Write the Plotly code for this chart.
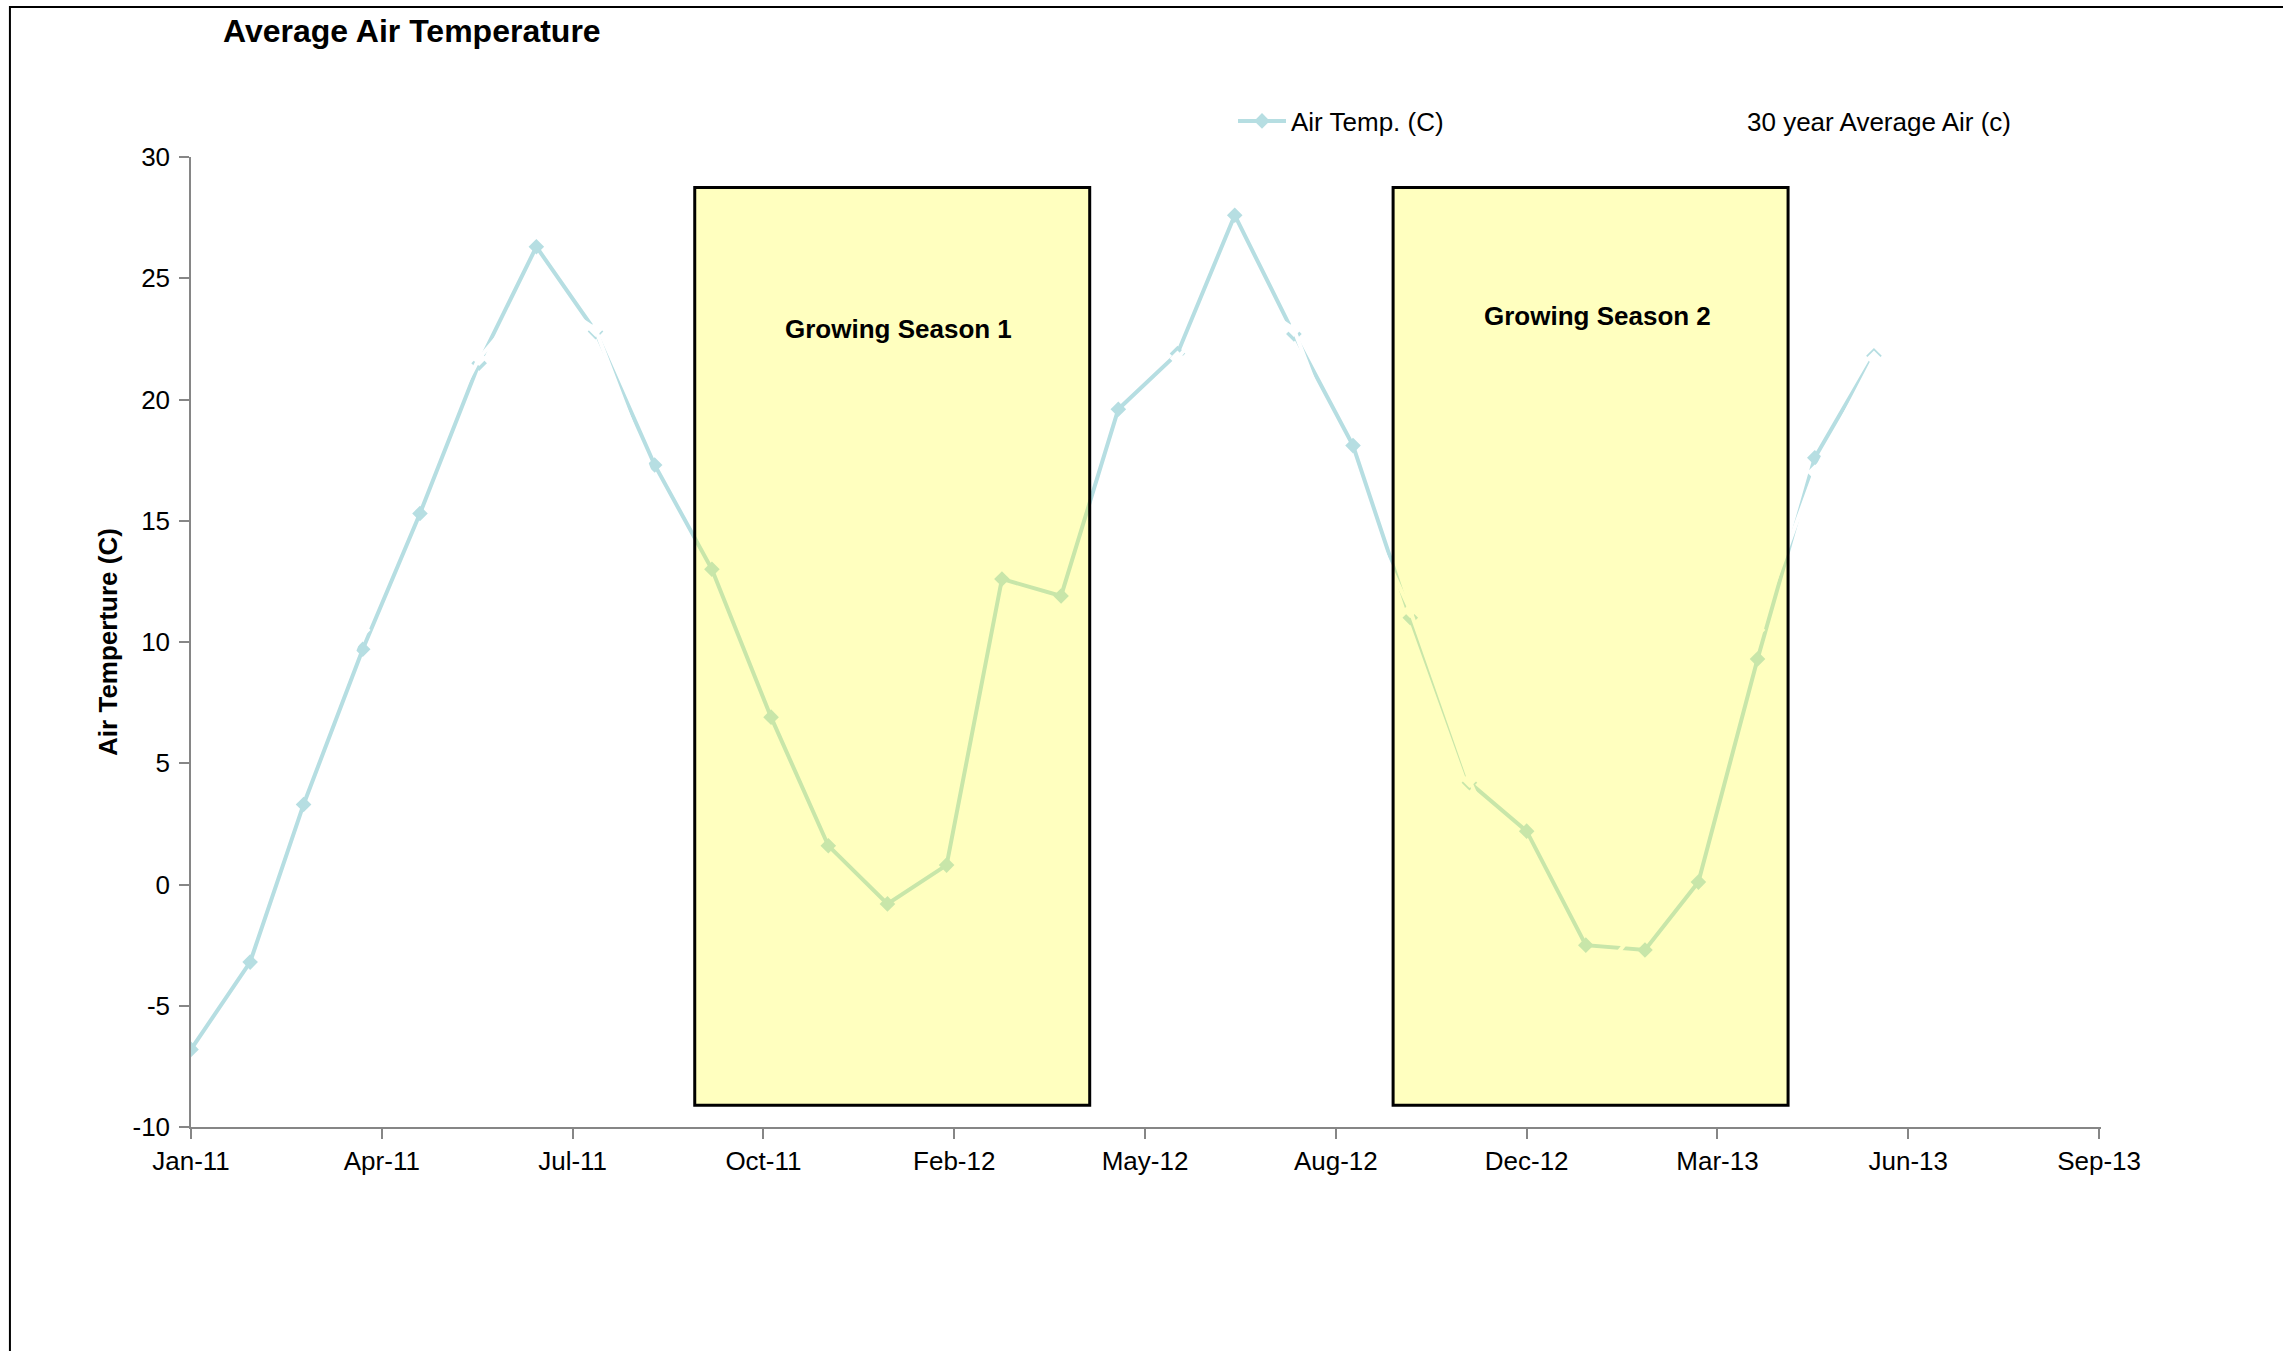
import pandas as pd
import plotly.graph_objects as go

# Monthly observations, first of each month
months = [
    "2011-01-01", "2011-02-01", "2011-03-01", "2011-04-01", "2011-05-01", "2011-06-01",
    "2011-07-01", "2011-08-01", "2011-09-01", "2011-10-01", "2011-11-01", "2011-12-01",
    "2012-01-01", "2012-02-01", "2012-03-01", "2012-04-01", "2012-05-01", "2012-06-01",
    "2012-07-01", "2012-08-01", "2012-09-01", "2012-10-01", "2012-11-01", "2012-12-01",
    "2013-01-01", "2013-02-01", "2013-03-01", "2013-04-01", "2013-05-01", "2013-06-01",
]

air_temp = [
    -6.8, -3.2, 3.3, 9.7, 15.3, 21.5, 26.3, 22.8, 17.3, 13.0, 6.9, 1.6,
    -0.8, 0.8, 12.6, 11.9, 19.6, 21.9, 27.6, 22.7, 18.1, 11.0, 4.2, 2.2,
    -2.5, -2.7, 0.1, 9.3, 17.6, 21.8,
]

avg_30yr = [
    -4.5, -1.4, 4.5, 10.5, 17.0, 21.7, 24.5, 22.9, 16.5, 11.3, 4.3, -1.0,
    -4.5, -1.4, 4.5, 10.5, 17.0, 21.7, 24.5, 22.9, 16.5, 11.3, 4.3, -1.0,
    -4.5, -1.4, 4.5, 10.5, 17.0, 21.7,
]

# Growing seasons (start, end) and their captions
season_start = ["2011-09-22", "2012-09-22"]
season_end = ["2012-04-16", "2013-04-17"]
season_names = ["Growing Season 1", "Growing Season 2"]
season_label_y = [22.9, 23.45]

y_ticks = [-10, -5, 0, 5, 10, 15, 20, 25, 30]
y_tick_text = ["-10", "-5", "0", "5", "10", "15", "20", "25", "30"]

FONT = "Liberation Sans, Arial, sans-serif"
LINE_BLUE = "#B6DEE2"
AXIS_GREY = "#868686"

fig = go.Figure()

fig.add_trace(go.Scatter(
    x=months, y=air_temp, name="Air Temp. (C)", mode="lines+markers",
    line=dict(color=LINE_BLUE, width=4),
    marker=dict(symbol="diamond", size=12, color=LINE_BLUE),
))

fig.add_trace(go.Scatter(
    x=months, y=avg_30yr, name="30 year Average Air (c)", mode="lines+markers",
    line=dict(color="#FFFFFF", width=4),
    marker=dict(symbol="diamond", size=12, color="#FFFFFF"),
))

# Shaded growing-season boxes with centred captions
for s, e, name, ly in zip(season_start, season_end, season_names, season_label_y):
    fig.add_shape(
        type="rect", xref="x", yref="y", x0=s, x1=e, y0=-9.1, y1=28.74,
        fillcolor="rgba(255,255,0,0.25)", line=dict(color="#000000", width=3),
        layer="above",
    )
    t0, t1 = pd.Timestamp(s), pd.Timestamp(e)
    mid = t0 + (t1 - t0) / 2 + pd.Timedelta(days=4)
    fig.add_annotation(
        x=mid.strftime("%Y-%m-%d"), y=ly, xref="x", yref="y", text=name, showarrow=False,
        font=dict(family=FONT, size=26, color="#000000", weight="bold"),
    )

# Outer chart frame
fig.add_shape(
    type="rect", xref="paper", yref="paper",
    x0=-0.0948, x1=1.2, y0=-0.4, y1=1.1546,
    line=dict(color="#000000", width=2), fillcolor="rgba(0,0,0,0)", layer="above",
)

fig.update_layout(
    width=2283, height=1351,
    margin=dict(l=191, r=182, t=157, b=224),
    paper_bgcolor="white", plot_bgcolor="white",
    font=dict(family=FONT, size=26, color="#000000"),
    title=dict(
        text="Average Air Temperature", x=223 / 2283, xanchor="left",
        xref="container", yref="container", y=1 - 31 / 1351, yanchor="middle",
        font=dict(family=FONT, size=32, color="#000000", weight="bold"),
    ),
    showlegend=True,
    legend=dict(
        orientation="h", x=(1233 - 191) / 1910, xanchor="left",
        y=(1127 - 121) / 970, yanchor="middle",
        font=dict(family=FONT, size=26, color="#000000"),
        itemwidth=48, bgcolor="rgba(0,0,0,0)",
        entrywidth=393, entrywidthmode="pixels",
    ),
    xaxis=dict(
        type="date", range=["2011-01-01", "2013-09-28"],
        tick0="2011-01-01", dtick=100 * 86400000, tickformat="%b-%y",
        showgrid=False, zeroline=False, showline=True, linecolor=AXIS_GREY, linewidth=1.5,
        ticks="outside", ticklen=10, tickcolor=AXIS_GREY, tickwidth=1.5,
        tickfont=dict(family=FONT, size=26, color="#000000"),
    ),
    yaxis=dict(
        range=[-10, 30], tickvals=y_ticks, ticktext=y_tick_text,
        showgrid=False, zeroline=False, showline=True, linecolor=AXIS_GREY, linewidth=1.5,
        ticks="outside", ticklen=10, tickcolor=AXIS_GREY, tickwidth=1.5,
        ticklabelstandoff=4,
        tickfont=dict(family=FONT, size=26, color="#000000"),
        title=dict(text="Air Temperture (C)", standoff=7,
                   font=dict(family=FONT, size=26, color="#000000", weight="bold")),
    ),
)

fig.write_html("out.html")
